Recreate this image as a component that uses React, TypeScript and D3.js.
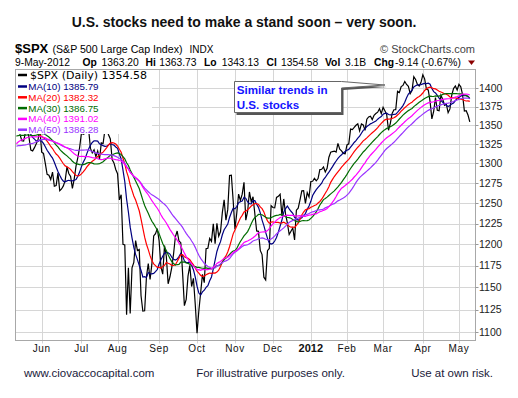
import React from 'react';
import * as d3 from 'd3';

// S&P 500 closes, Mar 1 - May 10 2011 (warm-up for the moving averages, not drawn)
const priorCloses = [
  1306.33, 1308.44, 1330.97, 1321.15, 1310.13, 1321.82, 1320.02, 1295.11, 1304.28, 1296.39,
  1281.87, 1256.88, 1273.72, 1279.21, 1298.38, 1293.77, 1297.54, 1309.66, 1313.8, 1310.19,
  1319.44, 1328.26, 1325.83,
  1332.41, 1332.87, 1332.63, 1335.54, 1333.51, 1328.17, 1324.46, 1314.16, 1314.41, 1314.52,
  1319.68, 1305.14, 1312.62, 1330.36, 1337.38, 1335.25, 1347.24, 1355.66, 1360.48, 1363.61,
  1361.22, 1356.62, 1347.32, 1335.1, 1340.2, 1346.29, 1357.16,
];

// month labels on the x axis ('' = partial month, no label)
const monthLabels = ['', 'Jun', 'Jul', 'Aug', 'Sep', 'Oct', 'Nov', 'Dec', '2012', 'Feb', 'Mar', 'Apr', 'May'];

// daily closes shown on the chart, one array per month (May 11 2011 - May 9 2012)
const monthCloses = [
  [1342.08, 1348.65, 1337.77, 1329.47, 1328.98, 1340.68, 1343.6, 1333.27, 1317.37, 1316.28, 1320.47, 1325.69, 1331.1, 1345.2],
  [1314.55, 1312.94, 1300.16, 1286.17, 1284.94, 1279.56, 1289.0, 1270.98, 1271.83, 1287.87, 1265.42, 1267.64, 1271.5, 1278.36,
    1295.52, 1287.14, 1283.5, 1268.45, 1280.1, 1296.67, 1307.41, 1320.64],
  [1339.67, 1337.88, 1339.22, 1353.22, 1343.8, 1319.49, 1313.64, 1317.72, 1308.87, 1316.14, 1305.44, 1326.73, 1325.84, 1343.8,
    1345.02, 1337.43, 1331.94, 1304.89, 1300.67, 1292.28],
  [1286.94, 1254.05, 1260.34, 1200.07, 1199.38, 1119.46, 1172.53, 1120.76, 1172.64, 1178.81, 1204.49, 1192.76, 1193.89, 1140.65,
    1123.53, 1123.82, 1162.35, 1177.6, 1159.27, 1176.8, 1210.08, 1212.92, 1218.89],
  [1204.42, 1173.97, 1165.24, 1198.62, 1185.9, 1154.23, 1162.27, 1172.87, 1188.68, 1209.11, 1216.01, 1204.09, 1202.09, 1166.76,
    1129.56, 1136.43, 1162.95, 1175.38, 1151.06, 1160.4, 1131.42],
  [1099.23, 1123.95, 1144.03, 1164.97, 1155.46, 1194.89, 1195.54, 1207.25, 1203.66, 1224.58, 1200.86, 1225.38, 1209.88, 1215.39,
    1238.25, 1254.19, 1229.05, 1242.0, 1284.59, 1285.09, 1253.3],
  [1218.28, 1237.9, 1261.15, 1253.23, 1261.12, 1275.92, 1229.1, 1239.7, 1263.85, 1251.78, 1257.81, 1236.91, 1216.13, 1215.65,
    1192.98, 1188.04, 1161.79, 1158.67, 1192.55, 1195.19, 1246.96],
  [1244.58, 1244.28, 1257.08, 1258.47, 1261.01, 1234.35, 1255.19, 1236.47, 1225.73, 1211.82, 1215.75, 1219.66, 1205.35, 1241.3,
    1243.72, 1254.0, 1265.33, 1265.43, 1249.64, 1263.02, 1257.6],
  [1277.06, 1277.3, 1281.06, 1277.81, 1280.7, 1292.08, 1292.48, 1295.5, 1289.09, 1293.67, 1308.04, 1314.5, 1315.38, 1316.0,
    1314.65, 1326.06, 1318.43, 1316.33, 1313.01, 1312.41],
  [1324.09, 1325.54, 1344.9, 1344.33, 1347.05, 1349.96, 1351.95, 1342.64, 1351.77, 1350.5, 1343.23, 1358.04, 1361.23, 1362.21,
    1357.66, 1363.46, 1365.74, 1367.59, 1372.18, 1365.68],
  [1374.09, 1369.63, 1364.33, 1343.36, 1352.63, 1365.91, 1370.87, 1371.09, 1395.95, 1394.28, 1402.6, 1404.17, 1409.75, 1405.52,
    1402.89, 1392.78, 1397.11, 1416.51, 1412.52, 1405.54, 1403.28, 1408.47],
  [1419.04, 1413.38, 1398.96, 1398.08, 1382.2, 1358.59, 1368.71, 1387.57, 1370.26, 1369.57, 1390.78, 1385.14, 1376.92, 1378.53,
    1366.94, 1371.97, 1390.69, 1399.98, 1403.36, 1397.91],
  [1405.82, 1402.31, 1391.57, 1369.1, 1369.58, 1363.72, 1354.58],
];

const maPeriods = [10, 20, 30, 40, 50];
const maColors = ['#000080', '#ff0000', '#006c00', '#ff00ff', '#9933ff'];
const maLegendValues = ['1385.79', '1382.32', '1386.75', '1391.02', '1386.28'];
const priceTicks = [1100, 1125, 1150, 1175, 1200, 1225, 1250, 1275, 1300, 1325, 1350, 1375, 1400];

const SANS = '"Liberation Sans", Arial, sans-serif';
const VERD = '"DejaVu Sans", Verdana, sans-serif';

const box = { left: 15.5, right: 475.5, top: 69.5, bottom: 340.5 };

const allCloses = [...priorCloses, ...monthCloses.flat()];
const offset = priorCloses.length;
const closes = allCloses.slice(offset);
const n = closes.length;

// trading-day axis, log price axis
const x = d3.scaleLinear().domain([0, n - 1]).range([16.4, 469.8]);
const y = d3.scaleLog().domain([1091.3, 1426.5]).range([box.bottom, box.top]);

const movingAvg = (p: number) =>
  closes.map((_, i) => d3.mean(allCloses.slice(offset + i - p + 1, offset + i + 1)) as number);

const monthStarts: number[] = [];
monthCloses.reduce((acc, m) => { monthStarts.push(acc); return acc + m.length; }, 0);

const line = d3.line<number>().x((_, i) => x(i)).y(d => y(d));

export default function App() {
  const mas = maPeriods.map(p => movingAvg(p));
  const drawOrder = [0, 1, 2, 4, 3];
  return (
    <svg width={518} height={398} style={{ position: 'absolute', left: 0, top: 0, background: '#fff' }}>
      <rect x={0} y={0} width={518} height={398} fill="#fff" />
      {/* title */}
      <text x={244} y={26.5} textAnchor="middle" fontFamily={SANS} fontSize={14} fontWeight="bold" fill="#111">
        U.S. stocks need to make a stand soon – very soon.
      </text>
      {/* header */}
      <text x={15} y={52.5} fontFamily={SANS} fontSize={13} fontWeight="bold" fill="#000">$SPX</text>
      <text x={52.5} y={52.5} fontFamily={SANS} fontSize={10.6} fill="#000">(S&amp;P 500 Large Cap Index)</text>
      <text x={189.5} y={52.5} fontFamily={SANS} fontSize={10} fill="#000">INDX</text>
      <text x={475} y={52.5} textAnchor="end" fontFamily={SANS} fontSize={11} fill="#444">© StockCharts.com</text>
      <g fontFamily={SANS} fontSize={10.3} fill="#000">
        <text x={15} y={65.5}>9-May-2012</text>
        <text x={82.5} y={65.5} fontWeight="bold">Op</text>
        <text x={101.5} y={65.5}>1363.20</text>
        <text x={145.5} y={65.5} fontWeight="bold">Hi</text>
        <text x={159.3} y={65.5}>1363.73</text>
        <text x={204} y={65.5} fontWeight="bold">Lo</text>
        <text x={221.7} y={65.5}>1343.13</text>
        <text x={266.5} y={65.5} fontWeight="bold">Cl</text>
        <text x={281} y={65.5}>1354.58</text>
        <text x={325} y={65.5} fontWeight="bold">Vol</text>
        <text x={345} y={65.5}>3.1B</text>
        <text x={374} y={65.5} fontWeight="bold">Chg</text>
        <text x={395} y={65.5}>-9.14 (-0.67%)</text>
      </g>
      <path d="M468,60.5 L475,60.5 L471.5,65 Z" fill="#8b0000" />

      {/* grid */}
      <g stroke="#d6d6d6" strokeWidth={1}>
        {priceTicks.map(t => (
          <line key={t} x1={box.left} x2={box.right} y1={Math.round(y(t)) + 0.5} y2={Math.round(y(t)) + 0.5} />
        ))}
        {monthStarts.slice(1).map(s => (
          <line key={s} x1={Math.round(x(s)) + 0.5} x2={Math.round(x(s)) + 0.5} y1={box.top} y2={box.bottom + 3} />
        ))}
      </g>

      {/* price + moving averages */}
      <path d={line(closes) || ''} fill="none" stroke="#000" strokeWidth={1.2} />
      {drawOrder.map(k => (
        <path key={k} d={line(mas[k]) || ''} fill="none" stroke={maColors[k]} strokeWidth={1.2} />
      ))}

      {/* border */}
      <rect x={box.left} y={box.top} width={box.right - box.left} height={box.bottom - box.top} fill="none" stroke="#a8a8a8" />

      {/* legend */}
      <rect x={16} y={70} width={136} height={64} fill="#fff" />
      <line x1={18} x2={27} y1={75} y2={75} stroke="#000" strokeWidth={2.5} />
      <text x={30} y={78.5} fontFamily={VERD} fontSize={11} fill="#000">$SPX (Daily) 1354.58</text>
      {maPeriods.map((p, i) => (
        <g key={p}>
          <line x1={18} x2={27} y1={86.5 + i * 10.8} y2={86.5 + i * 10.8} stroke={maColors[i]} strokeWidth={2.5} />
          <text x={28.3} y={90 + i * 10.8} fontFamily={SANS} fontSize={9.8} fill={maColors[i]}>
            MA({p}) {maLegendValues[i]}
          </text>
        </g>
      ))}

      {/* callout */}
      <path d="M236.5,84.5 L343.5,84.5 L387,87 L343.5,90 L343.5,115 L236.5,115 Z" fill="#555" />
      <path d="M234.5,81.5 L341.5,81.5 L385,85 L341.5,88 L341.5,112.5 L234.5,112.5 Z" fill="#fff" stroke="#666" />
      <g fontFamily={SANS} fontSize={11.6} fontWeight="bold" fill="#1414ff">
        <text x={236.7} y={94}>Similar trends in</text>
        <text x={236.7} y={109.3}>U.S. stocks</text>
      </g>

      {/* y axis */}
      {priceTicks.map(t => (
        <g key={t}>
          <line x1={box.right} x2={box.right + 3} y1={Math.round(y(t)) + 0.5} y2={Math.round(y(t)) + 0.5} stroke="#999" />
          <text x={479} y={y(t) + 3.7} fontFamily={SANS} fontSize={10.5} fill="#222">{t}</text>
        </g>
      ))}

      {/* x axis */}
      {monthStarts.map((s, i) => monthLabels[i] && (
        <text key={s} x={x(s)} y={351.5} textAnchor="middle" fontFamily={SANS}
          fontSize={monthLabels[i] === '2012' ? 11 : 10} fontWeight={monthLabels[i] === '2012' ? 'bold' : 'normal'}
          letterSpacing={monthLabels[i] === '2012' ? 0 : 0.6} fill="#111">
          {monthLabels[i]}
        </text>
      ))}

      {/* footer */}
      <g fontFamily={SANS} fontSize={11.5} fill="#1a1a3a">
        <text x={24} y={376.5}>www.ciovaccocapital.com</text>
        <text x={270.5} y={376.5} textAnchor="middle">For illustrative purposes only.</text>
        <text x={493} y={376.5} textAnchor="end">Use at own risk.</text>
      </g>
    </svg>
  );
}
